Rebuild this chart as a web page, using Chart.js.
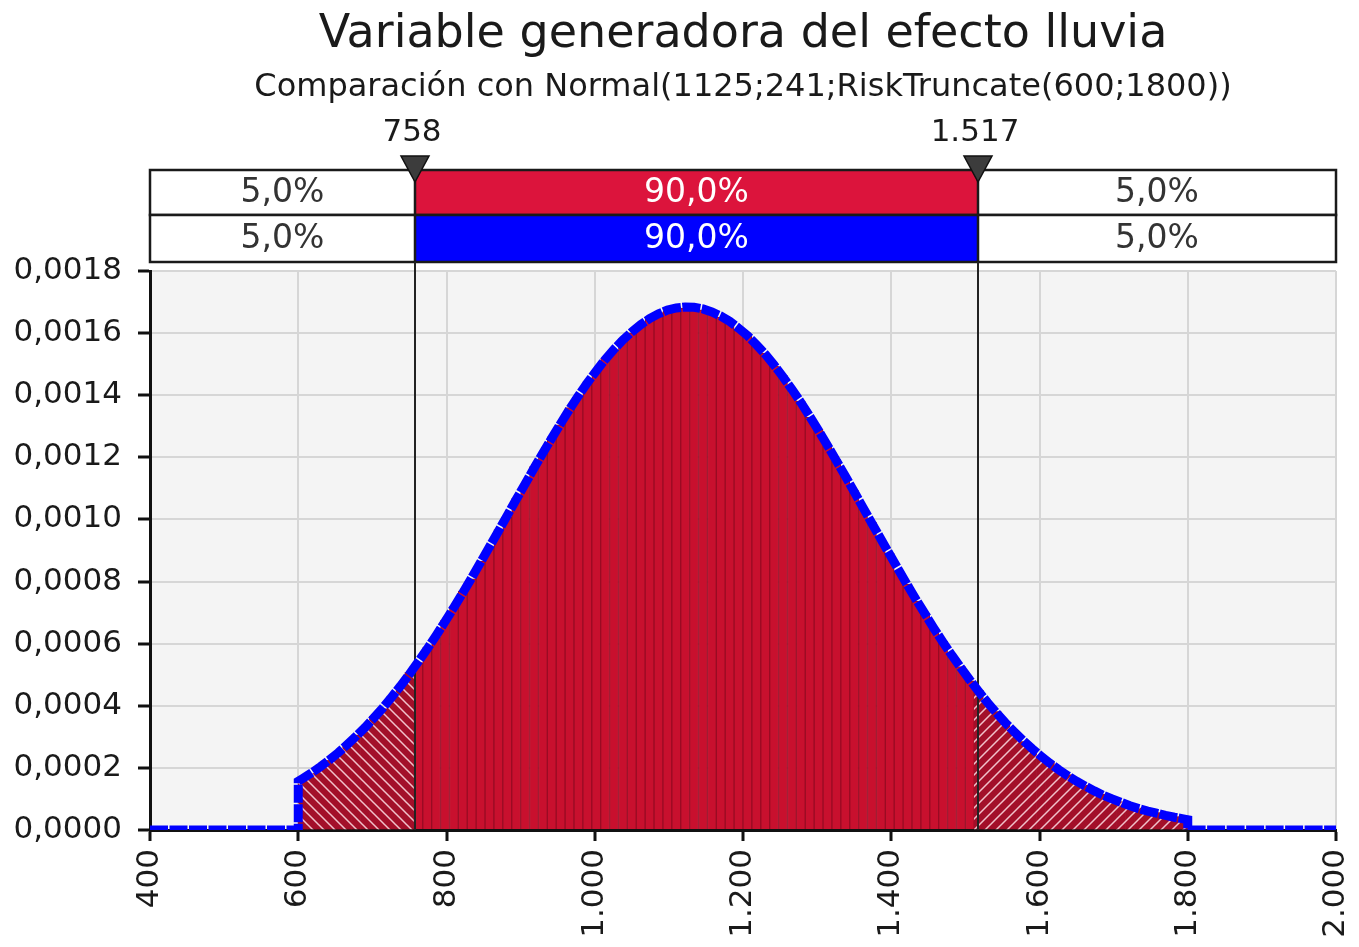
<!DOCTYPE html>
<html>
<head>
<meta charset="utf-8">
<script src="https://cdn.jsdelivr.net/npm/chart.js@4.4.0/dist/chart.umd.min.js"></script>
<style>
  html, body { margin: 0; padding: 0; background: #fff; }
  canvas { display: block; }
</style>
</head>
<body>
<canvas id="chartLluvia" width="1359" height="947"></canvas>
<script>
// Datos del gráfico
const titulo = "Variable generadora del efecto lluvia";
const subtitulo = "Comparación con Normal(1125;241;RiskTruncate(600;1800))";

// centros de las clases del histograma (ancho 12)
const centrosClase = [
    606, 618, 630, 642, 654, 666, 678, 690, 702, 714, 726, 738, 750, 762, 774, 786, 798, 810, 822, 834,
    846, 858, 870, 882, 894, 906, 918, 930, 942, 954, 966, 978, 990, 1002, 1014, 1026, 1038, 1050, 1062, 1074,
    1086, 1098, 1110, 1122, 1134, 1146, 1158, 1170, 1182, 1194, 1206, 1218, 1230, 1242, 1254, 1266, 1278, 1290, 1302, 1314,
    1326, 1338, 1350, 1362, 1374, 1386, 1398, 1410, 1422, 1434, 1446, 1458, 1470, 1482, 1494, 1506, 1518, 1530, 1542, 1554,
    1566, 1578, 1590, 1602, 1614, 1626, 1638, 1650, 1662, 1674, 1686, 1698, 1710, 1722, 1734, 1746, 1758, 1770, 1782, 1794
];

// densidad simulada (barras rojas)
const densidadSimulada = [
    0.000171, 0.000182, 0.000209, 0.000224, 0.000252, 0.000271, 0.000306, 0.000327, 0.000366, 0.000390,
    0.000431, 0.000461, 0.000507, 0.000539, 0.000588, 0.000622, 0.000676, 0.000714, 0.000769, 0.000809,
    0.000866, 0.000909, 0.000967, 0.001009, 0.001069, 0.001111, 0.001170, 0.001211, 0.001266, 0.001305,
    0.001360, 0.001395, 0.001444, 0.001475, 0.001519, 0.001545, 0.001582, 0.001601, 0.001631, 0.001644,
    0.001666, 0.001671, 0.001685, 0.001681, 0.001686, 0.001675, 0.001671, 0.001652, 0.001641, 0.001613,
    0.001596, 0.001560, 0.001536, 0.001494, 0.001463, 0.001416, 0.001381, 0.001329, 0.001290, 0.001235,
    0.001193, 0.001137, 0.001093, 0.001035, 0.000991, 0.000934, 0.000891, 0.000834, 0.000792, 0.000737,
    0.000698, 0.000645, 0.000608, 0.000559, 0.000526, 0.000480, 0.000450, 0.000407, 0.000381, 0.000342,
    0.000320, 0.000285, 0.000266, 0.000235, 0.000219, 0.000191, 0.000178, 0.000154, 0.000144, 0.000123,
    0.000115, 0.000097, 0.000091, 0.000076, 0.000071, 0.000059, 0.000056, 0.000045, 0.000043, 0.000034
];

// curva ajustada (línea azul)
const ajusteX = [400, 600, 600].concat(centrosClase, [1800, 1800, 2000]);
const ajusteY = [
    0, 0, 0.000157,
    0.000166, 0.000184, 0.000204, 0.000226, 0.000249, 0.000275, 0.000302, 0.000330, 0.000361, 0.000393,
    0.000428, 0.000464, 0.000502, 0.000542, 0.000583, 0.000626, 0.000671, 0.000717, 0.000764, 0.000812,
    0.000862, 0.000912, 0.000962, 0.001013, 0.001064, 0.001114, 0.001165, 0.001214, 0.001262, 0.001309,
    0.001355, 0.001398, 0.001440, 0.001478, 0.001515, 0.001548, 0.001578, 0.001604, 0.001627, 0.001647,
    0.001662, 0.001674, 0.001681, 0.001684, 0.001683, 0.001678, 0.001668, 0.001655, 0.001638, 0.001616,
    0.001592, 0.001563, 0.001532, 0.001497, 0.001459, 0.001419, 0.001377, 0.001332, 0.001286, 0.001238,
    0.001189, 0.001140, 0.001089, 0.001038, 0.000987, 0.000937, 0.000887, 0.000837, 0.000788, 0.000740,
    0.000694, 0.000648, 0.000604, 0.000562, 0.000522, 0.000483, 0.000446, 0.000410, 0.000377, 0.000345,
    0.000316, 0.000288, 0.000262, 0.000238, 0.000215, 0.000194, 0.000175, 0.000157, 0.000141, 0.000126,
    0.000112, 0.000100, 0.000089, 0.000078, 0.000069, 0.000061, 0.000054, 0.000047, 0.000041, 0.000036,
    0.000033, 0, 0
];

// delimitadores y porcentajes
const delimitadores = [758, 1517];
const etiquetasDelimitadores = ["758", "1.517"];
const porcentajesSimulacion = ["5,0%", "90,0%", "5,0%"];
const porcentajesAjuste = ["5,0%", "90,0%", "5,0%"];

const FUENTE = '"DejaVu Sans", Verdana, sans-serif';
const ROJO = "#c8102e";
const ROJO_OSCURO = "#990c24";

// tramas rayadas para las colas
function crearTrama(invertida) {
    const c = document.createElement("canvas");
    c.width = 11;
    c.height = 11;
    const g = c.getContext("2d");
    g.fillStyle = "#a30f29";
    g.fillRect(0, 0, 11, 11);
    g.strokeStyle = "rgba(255,225,230,0.85)";
    g.lineWidth = 1.5;
    g.beginPath();
    if (!invertida) {
        g.moveTo(-1, -1); g.lineTo(12, 12);
        g.moveTo(-12, -1); g.lineTo(1, 12);
        g.moveTo(10, -1); g.lineTo(23, 12);
    } else {
        g.moveTo(-1, 12); g.lineTo(12, -1);
        g.moveTo(-12, 12); g.lineTo(1, -1);
        g.moveTo(10, 12); g.lineTo(23, -1);
    }
    g.stroke();
    return g.createPattern(c, "repeat");
}
const tramaIzq = crearTrama(false);
const tramaDer = crearTrama(true);

const enCola = (x) => x < delimitadores[0] || x > delimitadores[1];
const coloresBarras = centrosClase.map((x) => {
    if (x < delimitadores[0]) return tramaIzq;
    if (x > delimitadores[1]) return tramaDer;
    return ROJO;
});
const bordesBarras = centrosClase.map((x) => (enCola(x) ? 0 : 1));

const datosBarras = centrosClase.map((x, i) => ({ x: x, y: densidadSimulada[i] }));
const datosAjuste = ajusteX.map((x, i) => ({ x: x, y: ajusteY[i] }));

function formatoMiles(v) {
    return String(v).replace(/\B(?=(\d{3})+(?!\d))/g, ".");
}

const pluginDelimitadores = {
    id: "delimitadores",
    beforeDraw(chart) {
        const { ctx, chartArea } = chart;
        ctx.save();
        ctx.fillStyle = "#f4f4f4";
        ctx.fillRect(chartArea.left, chartArea.top, chartArea.right - chartArea.left, chartArea.bottom - chartArea.top);
        ctx.restore();
    },
    afterDatasetDraw(chart, args) {
        if (args.index !== 1) return;
        const { ctx, chartArea, scales } = chart;
        ctx.save();
        ctx.strokeStyle = "#222";
        ctx.lineWidth = 2;
        delimitadores.forEach((d) => {
            const px = Math.round(scales.x.getPixelForValue(d));
            ctx.beginPath();
            ctx.moveTo(px, chartArea.top);
            ctx.lineTo(px, chartArea.bottom);
            ctx.stroke();
        });
        ctx.restore();
    },
    afterDraw(chart) {
        const { ctx, chartArea, scales } = chart;
        const centro = (chartArea.left + chartArea.right) / 2;
        ctx.save();
        ctx.textAlign = "center";
        ctx.textBaseline = "middle";
        ctx.fillStyle = "#1a1a1a";
        ctx.font = "46px " + FUENTE;
        ctx.fillText(titulo, centro, 35);
        ctx.font = "32px " + FUENTE;
        ctx.fillText(subtitulo, centro, 88);

        const x0 = chartArea.left;
        const x3 = chartArea.right;
        const x1 = Math.round(scales.x.getPixelForValue(delimitadores[0]));
        const x2 = Math.round(scales.x.getPixelForValue(delimitadores[1]));
        const filas = [
            { y: 170, h: 45, datos: porcentajesSimulacion, color: "#dc143c" },
            { y: 215, h: 47, datos: porcentajesAjuste, color: "#0000ff" },
        ];
        ctx.font = "33px " + FUENTE;
        filas.forEach((f) => {
            ctx.fillStyle = "#ffffff";
            ctx.fillRect(x0, f.y, x3 - x0, f.h);
            ctx.fillStyle = f.color;
            ctx.fillRect(x1, f.y, x2 - x1, f.h);
            ctx.strokeStyle = "#1a1a1a";
            ctx.lineWidth = 2.5;
            ctx.strokeRect(x0, f.y, x3 - x0, f.h);
            ctx.beginPath();
            ctx.moveTo(x1, f.y); ctx.lineTo(x1, f.y + f.h);
            ctx.moveTo(x2, f.y); ctx.lineTo(x2, f.y + f.h);
            ctx.stroke();
            const cy = f.y + f.h / 2 + 1;
            ctx.fillStyle = "#333";
            ctx.fillText(f.datos[0], (x0 + x1) / 2, cy);
            ctx.fillText(f.datos[2], (x2 + x3) / 2, cy);
            ctx.fillStyle = "#ffffff";
            ctx.fillText(f.datos[1], (x1 + x2) / 2, cy);
        });

        // líneas entre cajas y eje
        ctx.strokeStyle = "#222";
        ctx.lineWidth = 2;
        [x1, x2].forEach((px) => {
            ctx.beginPath();
            ctx.moveTo(px, 262);
            ctx.lineTo(px, chartArea.top);
            ctx.stroke();
        });

        // triángulos y etiquetas de los delimitadores
        ctx.font = "31px " + FUENTE;
        [x1, x2].forEach((px, i) => {
            ctx.fillStyle = "#3c3c3c";
            ctx.strokeStyle = "#111";
            ctx.lineWidth = 1.5;
            ctx.beginPath();
            ctx.moveTo(px - 14, 156);
            ctx.lineTo(px + 14, 156);
            ctx.lineTo(px, 182);
            ctx.closePath();
            ctx.fill();
            ctx.stroke();
            ctx.fillStyle = "#1a1a1a";
            ctx.fillText(etiquetasDelimitadores[i], px - 3, 133);
        });
        ctx.restore();
    },
};

const ctx = document.getElementById("chartLluvia");

new Chart(ctx, {
    type: "bar",
    data: {
        datasets: [
            {
                type: "line",
                label: "Normal(1125;241)",
                data: datosAjuste,
                borderColor: "#0000ff",
                borderWidth: 9,
                borderDash: [18, 1.5],
                pointRadius: 0,
                tension: 0,
                fill: false,
                order: 0,
            },
            {
                type: "bar",
                label: "Variable generadora",
                data: datosBarras,
                backgroundColor: coloresBarras,
                borderColor: ROJO_OSCURO,
                borderWidth: bordesBarras,
                borderSkipped: "bottom",
                barPercentage: 1,
                categoryPercentage: 1,
                order: 1,
            },
        ],
    },
    options: {
        responsive: false,
        animation: false,
        devicePixelRatio: 1,
        layout: {
            padding: { top: 271, right: 23, left: 0, bottom: 0 },
        },
        plugins: {
            legend: { display: false },
            title: { display: false },
            tooltip: { enabled: false },
        },
        scales: {
            x: {
                type: "linear",
                min: 400,
                max: 2000,
                offset: false,
                grid: {
                    offset: false,
                    color: "#d6d6d6",
                    lineWidth: 2,
                    tickColor: "#111",
                    tickLength: 11,
                    tickWidth: 3,
                },
                border: { color: "#111", width: 3 },
                ticks: {
                    stepSize: 200,
                    minRotation: 90,
                    maxRotation: 90,
                    padding: 8,
                    color: "#1a1a1a",
                    font: { family: FUENTE, size: 31 },
                    callback: (v) => formatoMiles(v),
                },
                afterFit: (scale) => {
                    scale.height = 117;
                    scale.paddingLeft = 0;
                    scale.paddingRight = 0;
                },
            },
            y: {
                min: 0,
                max: 0.0018,
                grid: {
                    color: "#d6d6d6",
                    lineWidth: 2,
                    tickColor: "#111",
                    tickLength: 12,
                    tickWidth: 3,
                },
                border: { color: "#111", width: 3 },
                ticks: {
                    stepSize: 0.0002,
                    padding: 16,
                    color: "#1a1a1a",
                    font: { family: FUENTE, size: 31 },
                    callback: (v) => v.toFixed(4).replace(".", ","),
                },
                afterFit: (scale) => { scale.width = 150; },
            },
        },
    },
    plugins: [pluginDelimitadores],
});
</script>
</body>
</html>
